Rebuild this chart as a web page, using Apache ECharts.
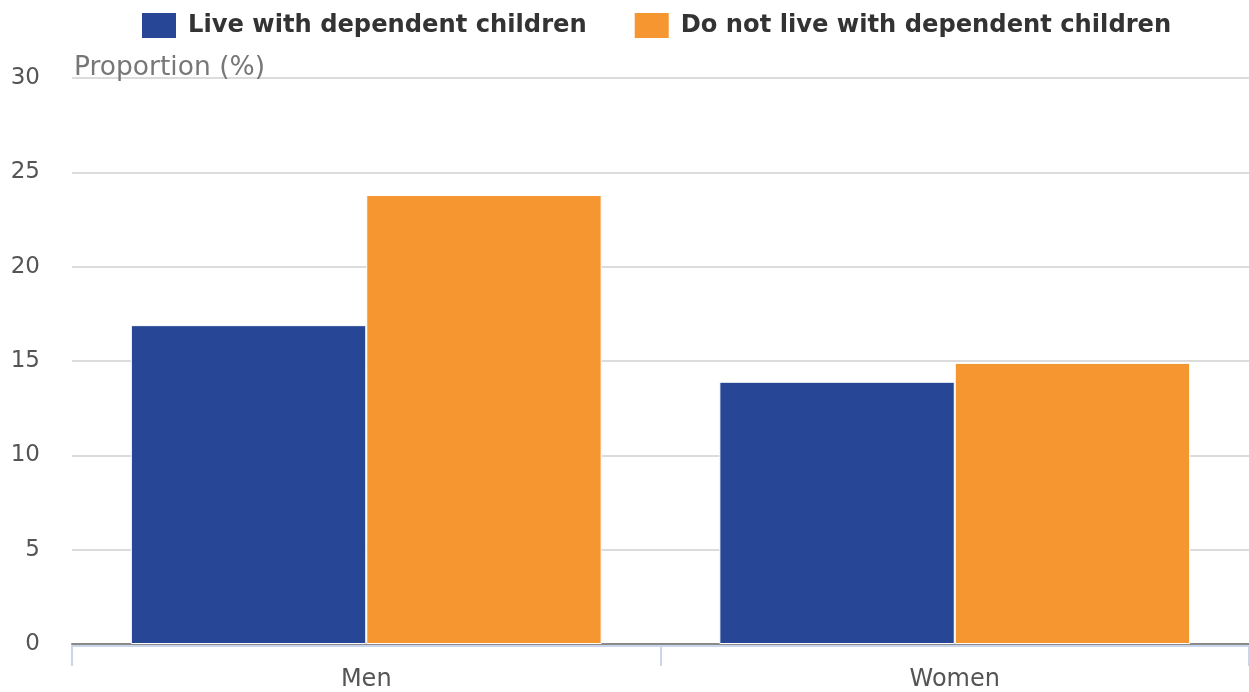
<!DOCTYPE html>
<html>
<head>
<meta charset="utf-8">
<script src="https://cdn.jsdelivr.net/npm/echarts@6/dist/echarts.min.js"></script>
<style>
html,body{margin:0;padding:0;background:#fff;}
#chart{width:1249px;height:692px;}
</style>
</head>
<body>
<div id="chart"></div>
<script>
const categories = ['Men', 'Women'];
const liveWith = [16.9, 13.9];
const notLiveWith = [23.8, 14.9];
const seriesNames = ['Live with dependent children', 'Do not live with dependent children'];
const yAxisName = 'Proportion (%)';

const chart = echarts.init(document.getElementById('chart'));
const font = 'DejaVu Sans';
chart.setOption({
  animation: false,
  textStyle: { fontFamily: font },
  color: ['#274796', '#f59630'],
  legend: {
    top: 11,
    left: 140,
    padding: 0,
    icon: 'rect',
    itemWidth: 36,
    itemHeight: 27,
    itemGap: 46,
    textStyle: { fontFamily: font, fontWeight: 'bold', fontSize: 24.2, color: '#333', padding: [0, 0, 0, 6] },
    data: seriesNames
  },
  grid: { left: 72, width: 1180, top: 78, height: 568, containLabel: false },
  xAxis: [
    {
      type: 'category',
      data: categories,
      axisLine: { show: true, lineStyle: { color: '#8a8a8a', width: 2 } },
      axisTick: { show: false },
      axisLabel: { show: false }
    },
    {
      type: 'category',
      data: categories,
      position: 'bottom',
      offset: 2,
      axisLine: { show: true, lineStyle: { color: '#ccd6eb', width: 2 } },
      axisTick: { show: true, length: 20, lineStyle: { color: '#ccd6eb', width: 2 } },
      axisLabel: { fontFamily: font, fontSize: 24, color: '#555', margin: 22 }
    }
  ],
  yAxis: {
    type: 'value',
    min: 0, max: 30, interval: 5,
    name: yAxisName,
    nameLocation: 'end',
    nameGap: 0,
    nameTextStyle: { fontFamily: font, fontSize: 26.5, color: '#777', align: 'left', verticalAlign: 'bottom', padding: [0, 0, -4, 2] },
    axisLine: { show: false },
    axisTick: { show: false },
    axisLabel: { fontFamily: font, fontSize: 23, color: '#555', margin: 32, padding: [6, 0, 0, 0] },
    splitLine: { lineStyle: { color: '#dcdcdc', width: 2 } }
  },
  series: [
    {
      name: seriesNames[0], type: 'bar', data: liveWith,
      xAxisIndex: 0,
      barGap: '0%', barCategoryGap: '20%',
      itemStyle: { borderColor: '#fff', borderWidth: 1 }
    },
    {
      name: seriesNames[1], type: 'bar', data: notLiveWith,
      xAxisIndex: 0,
      itemStyle: { borderColor: '#fff', borderWidth: 1 }
    }
  ]
});
</script>
</body>
</html>
